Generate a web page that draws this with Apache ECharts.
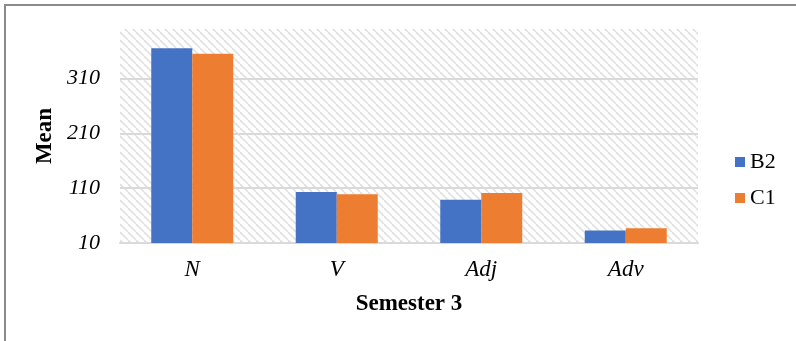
<!DOCTYPE html>
<html>
<head>
<meta charset="utf-8">
<script src="https://cdn.jsdelivr.net/npm/echarts@6/dist/echarts.min.js"></script>
<style>
  html, body { margin: 0; padding: 0; background: #fff; }
  #chart { width: 796px; height: 341px; }
</style>
</head>
<body>
<div id="chart"></div>
<script>
// Word classes and mean counts per proficiency group
const categories = ['N', 'V', 'Adj', 'Adv'];
const b2Values = [365, 103, 89, 33];
const c1Values = [355, 99, 101, 37];
const yTicks = { min: 10, max: 400, interval: 100 };

// Light diagonal hatch used as the plot-area fill
function makeHatch() {
  const c = document.createElement('canvas');
  c.width = 8; c.height = 8;
  const ctx = c.getContext('2d');
  ctx.fillStyle = '#ffffff';
  ctx.fillRect(0, 0, 8, 8);
  ctx.strokeStyle = '#e2e2e2';
  ctx.lineWidth = 1.8;
  for (const k of [-8, 0, 8]) {
    ctx.beginPath();
    ctx.moveTo(k, 0);
    ctx.lineTo(k + 8, 8);
    ctx.stroke();
  }
  return c;
}

const serif = '"Liberation Serif", "Times New Roman", serif';
const chart = echarts.init(document.getElementById('chart'), null, { renderer: 'canvas' });

chart.setOption({
  animation: false,
  backgroundColor: '#ffffff',
  graphic: [{
    type: 'rect',
    shape: { x: 5, y: 5, width: 900, height: 500 },
    style: { fill: 'none', stroke: '#8a8a8a', lineWidth: 2 },
    silent: true
  }],
  grid: {
    left: 120, right: 98, top: 29, bottom: 98,
    show: true,
    borderWidth: 0,
    backgroundColor: { image: makeHatch(), repeat: 'repeat' }
  },
  legend: {
    orient: 'vertical',
    left: 730,
    top: 146,
    itemWidth: 10,
    itemHeight: 10,
    itemGap: 14,
    icon: 'rect',
    textStyle: { fontFamily: serif, fontSize: 22, lineHeight: 22, color: '#000' },
    data: ['B2', 'C1']
  },
  xAxis: {
    type: 'category',
    data: categories,
    name: 'Semester 3',
    nameLocation: 'middle',
    nameGap: 50,
    nameTextStyle: { fontFamily: serif, fontSize: 23, fontWeight: 'bold', color: '#000' },
    axisTick: { show: false },
    axisLine: { lineStyle: { color: '#d9d9d9', width: 2 } },
    axisLabel: { fontFamily: serif, fontSize: 23, fontStyle: 'italic', color: '#000', margin: 15 }
  },
  yAxis: {
    type: 'value',
    min: yTicks.min,
    max: yTicks.max,
    interval: yTicks.interval,
    name: 'Mean',
    nameLocation: 'middle',
    nameGap: 62,
    nameTextStyle: { fontFamily: serif, fontSize: 23, fontWeight: 'bold', color: '#000' },
    axisLine: { show: false },
    axisTick: { show: false },
    axisLabel: { fontFamily: serif, fontSize: 22, fontStyle: 'italic', color: '#000', margin: 20, showMaxLabel: false },
    splitLine: { showMaxLine: false, lineStyle: { color: '#d9d9d9', width: 2 } }
  },
  series: [
    { name: 'B2', type: 'bar', data: b2Values, barWidth: 41, barGap: '0%', itemStyle: { color: '#4472c4' } },
    { name: 'C1', type: 'bar', data: c1Values, barWidth: 41, barGap: '0%', itemStyle: { color: '#ed7d31' } }
  ]
});
</script>
</body>
</html>
